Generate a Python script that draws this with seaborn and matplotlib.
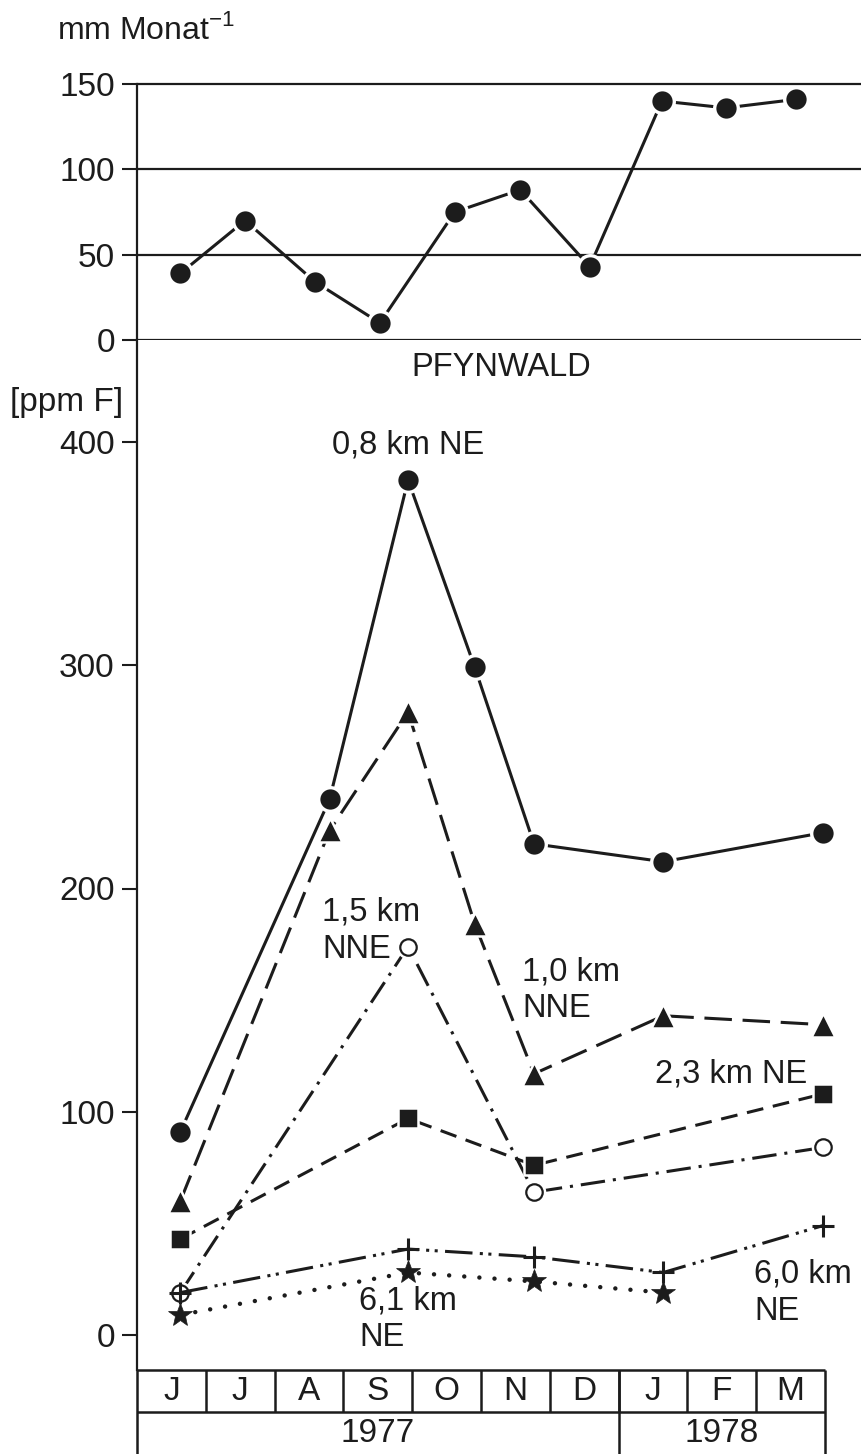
import matplotlib
matplotlib.use("Agg")
import matplotlib.pyplot as plt
import seaborn as sns

# monthly precipitation (top panel), positions in months from June 1977
rain_pos = [0.63, 1.57, 2.59, 3.53, 4.62, 5.57, 6.58, 7.63, 8.56, 9.58]
rain_mm = [39, 70, 34, 10, 75, 88, 43, 140, 136, 141]

# fluorine content [ppm F] at the sampling sites
pos_full = [0.63, 2.8, 3.94, 4.91, 5.77, 7.65, 9.97]
f_08 = [91, 240, 383, 299, 220, 212, 225]
f_10 = [60, 226, 279, 184, 117, 143, 139]
pos_4 = [0.63, 3.94, 5.77, 9.97]
f_15 = [19, 174, 64, 84]
f_23 = [43, 97, 76, 108]
pos_5 = [0.63, 3.94, 5.77, 7.65, 9.97]
f_60 = [19, 38.5, 35, 28, 49]
pos_61 = [0.63, 3.94, 5.77, 7.65]
f_61 = [9, 28, 24, 19]

months = ["J", "J", "A", "S", "O", "N", "D", "J", "F", "M"]
years = ["1977", "1978"]
year_split = 7
rain_ticks = [0, 50, 100, 150]
ppm_ticks = [0, 100, 200, 300, 400]

ink = "#1c1c1c"
sns.set_style("ticks")
plt.rcParams["font.family"] = ["Liberation Sans", "DejaVu Sans"]
plt.rcParams["mathtext.fontset"] = "custom"
plt.rcParams["mathtext.rm"] = "Liberation Sans"
plt.rcParams["text.color"] = ink
plt.rcParams["axes.edgecolor"] = ink
plt.rcParams["ytick.color"] = ink

W, H = 862, 1454
fig = plt.figure(figsize=(W / 100, H / 100), dpi=100)
x0 = 137
mpx = 68.8  # pixels per month
xmax = (W - x0) / mpx

ax_top = fig.add_axes([x0 / W, 1 - 340 / H, (W - x0) / W, (340 - 84) / H])
ax = fig.add_axes([x0 / W, 1 - 1370 / H, (W - x0) / W, (1370 - 340) / H])
ax_tab = fig.add_axes([x0 / W, 0, 10 * mpx / W, (H - 1370) / H])

# ---- top panel: precipitation
sns.lineplot(x=rain_pos, y=rain_mm, ax=ax_top, color=ink, lw=2.2,
             marker="o", ms=17, mfc=ink, mec="white", mew=2.4, zorder=4)
for v in rain_ticks:
    ax_top.axhline(v, color=ink, lw=1.6, clip_on=False, zorder=1)
ax_top.set_xlim(0, xmax)
ax_top.set_ylim(0, 150)
ax_top.set_yticks(rain_ticks)
ax_top.set_xticks([])
for s in ["top", "right", "bottom"]:
    ax_top.spines[s].set_visible(False)
ax_top.spines["left"].set_linewidth(1.6)
ax_top.tick_params(axis="y", length=11, width=1.5, pad=5, labelsize=24)
ax_top.set_xlabel("")
ax_top.set_ylabel("")
fig.text(57 / W, 1 - 30 / H, "mm Monat$^{-1}$", fontsize=23, ha="left", va="center")

# ---- lower panel: fluorine
lw = 2.2
sns.lineplot(x=pos_full, y=f_08, ax=ax, color=ink, lw=lw, linestyle="-",
             marker="o", ms=17, mfc=ink, mec="white", mew=2.4, zorder=6)
sns.lineplot(x=pos_full, y=f_10, ax=ax, color=ink, lw=lw, linestyle=(0, (9, 3.5)),
             marker="^", ms=17, mfc=ink, mec="white", mew=1.8, zorder=5)
sns.lineplot(x=pos_4, y=f_23, ax=ax, color=ink, lw=lw, linestyle=(0, (5.5, 3.2)),
             marker="s", ms=14, mfc=ink, mec="white", mew=1.8, zorder=5)
sns.lineplot(x=pos_4, y=f_15, ax=ax, color=ink, lw=lw, linestyle=(0, (8, 2.6, 1, 2.6)),
             marker="o", ms=17, mfc="white", mec="white", mew=0, zorder=4)
sns.scatterplot(x=pos_4, y=f_15, ax=ax, marker="o", s=140, facecolor="white",
                edgecolor=ink, linewidth=1.6, zorder=7)
sns.lineplot(x=pos_5, y=f_60, ax=ax, color=ink, lw=lw,
             linestyle=(0, (9, 2.4, 1, 1.8, 1, 2.4)),
             marker="+", ms=16, mec=ink, mew=2.2, zorder=8)
sns.lineplot(x=pos_61, y=f_61, ax=ax, color=ink, lw=3.2, linestyle=(0, (0.01, 3.4)),
             dash_capstyle="round", marker="*", ms=18, mfc=ink, mec=ink, mew=0.5, zorder=5)

ax.set_xlim(0, xmax)
ax.set_ylim((1335 - 1370) / 2.2325, (1335 - 340) / 2.2325)
ax.set_yticks(ppm_ticks)
ax.set_xticks([])
for s in ["top", "right", "bottom"]:
    ax.spines[s].set_visible(False)
ax.spines["left"].set_linewidth(1.6)
ax.tick_params(axis="y", length=11, width=1.5, pad=5, labelsize=24)
ax.set_xlabel("")
ax.set_ylabel("")
fig.text(10 / W, 1 - 403 / H, "[ppm F]", fontsize=24, ha="left", va="center")

fs = 23.5
ax.text(5.3, 433.5, "PFYNWALD", fontsize=fs, ha="center", va="center")
ax.text(3.94, 398.5, "0,8 km NE", fontsize=fs, ha="center", va="center")
ax.text(2.69, 181, "1,5 km\nNNE", fontsize=fs, ha="left", va="center", linespacing=1.25)
ax.text(5.6, 154.5, "1,0 km\nNNE", fontsize=fs, ha="left", va="center", linespacing=1.25)
ax.text(9.74, 117, "2,3 km NE", fontsize=fs, ha="right", va="center")
ax.text(8.97, 19, "6,0 km\nNE", fontsize=fs, ha="left", va="center", linespacing=1.25)
ax.text(3.23, 7, "6,1 km\nNE", fontsize=fs, ha="left", va="center", linespacing=1.25)

# ---- month / year table
ax_tab.set_xlim(0, len(months))
ax_tab.set_ylim(0, 2)
ax_tab.axis("off")
tl = 1.8
ax_tab.hlines([1, 2], 0, len(months), color=ink, lw=tl, clip_on=False)
ax_tab.vlines(range(1, len(months)), 1, 2, color=ink, lw=tl)
ax_tab.vlines([0, year_split, len(months)], 0, 2, color=ink, lw=tl, clip_on=False)
for i, m in enumerate(months):
    ax_tab.text(i + 0.5, 1.5, m, fontsize=24, ha="center", va="center")
ax_tab.text(year_split / 2, 0.5, years[0], fontsize=24, ha="center", va="center")
ax_tab.text((year_split + len(months)) / 2, 0.5, years[1], fontsize=24,
            ha="center", va="center")

fig.savefig("out.png", dpi=100)
